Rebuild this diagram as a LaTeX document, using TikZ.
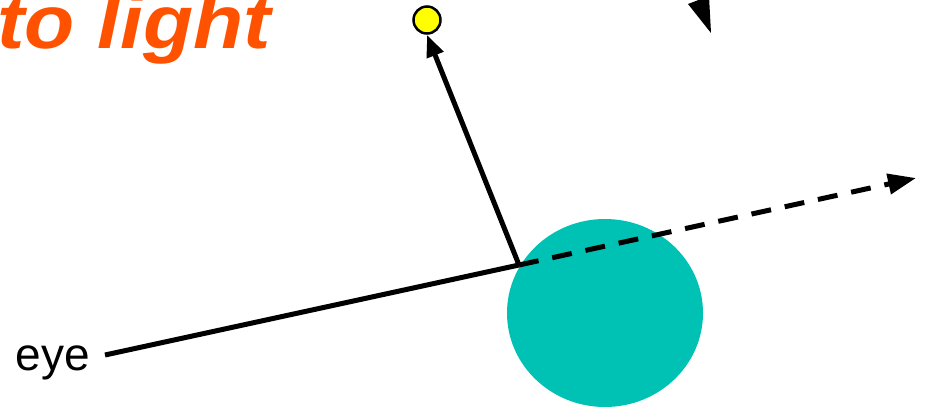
\documentclass[tikz,border=0pt]{standalone}
\usepackage{fontspec}
\setmainfont{Liberation Sans}
\usetikzlibrary{arrows.meta}
\definecolor{TitleOrange}{HTML}{FF5200}
\definecolor{BallTeal}{HTML}{00C2B4}
\definecolor{LightYellow}{HTML}{FFFF00}

\begin{document}
\begin{tikzpicture}[x=1pt,y=-1pt,line cap=butt,line join=miter]
  \useasboundingbox (0,0) rectangle (926,408);
  \clip (0,0) rectangle (926,408);
  % sphere
  \fill[BallTeal] (605,313) ellipse [x radius=98,y radius=94];
  % title
  \node[anchor=base west,inner sep=0pt,TitleOrange,xscale=1.08,font=\fontsize{76}{76}\selectfont\bfseries\itshape] (title) at (-3,48) {to light};
  % points
  \coordinate (hit) at (519,265);
  \coordinate (eyeend) at (105,355);
  \coordinate (far) at (916,178);
  \node[circle,draw,line width=2.5pt,fill=LightYellow,minimum size=27pt,inner sep=0pt] (light) at (427,20) {};
  \node[anchor=base east,inner sep=0pt,font=\fontsize{46}{46}\selectfont] (eye) at (90,370) {eye};
  % rays
  \draw[line width=5pt] (eyeend) -- (hit);
  \draw[line width=5pt,-{Triangle[length=22pt,width=17pt]}] (hit) -- (light.south);
  \draw[line width=5pt,dash pattern=on 20pt off 14pt,-{Triangle[length=28pt,width=20pt]}] (hit) -- (far);
  % cut-off arrowhead
  \fill (688,4) -- (709,-4) -- (711,33) -- cycle;
\end{tikzpicture}
\end{document}
